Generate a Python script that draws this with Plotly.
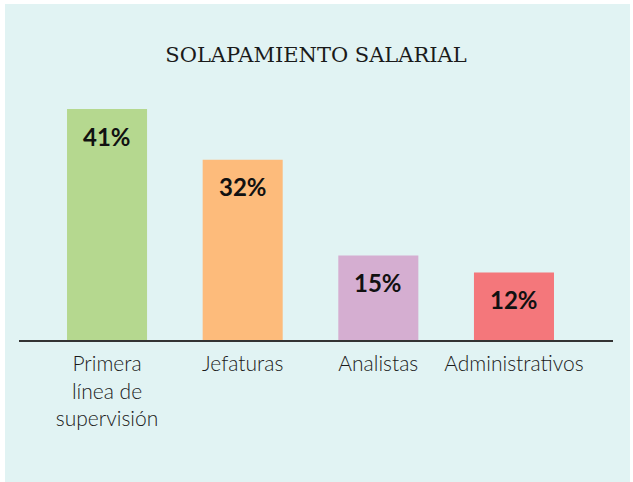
import plotly.graph_objects as go

categories = ["Primera<br>línea de<br>supervisión", "Jefaturas", "Analistas", "Administrativos"]
values = [41, 32, 15, 12]
labels = ["41%", "32%", "15%", "12%"]
colors = ["#b5d88f", "#fdbb7b", "#d5aed1", "#f4777b"]

W, H = 633, 482
ml, mr, mt, mb = 19, 20, 86, 142

fig = go.Figure()
fig.add_trace(go.Bar(
    x=list(range(len(categories))), y=values,
    marker=dict(color=colors, line=dict(width=0)),
    width=0.59, hoverinfo="skip",
))

for i, (v, t) in enumerate(zip(values, labels)):
    fig.add_annotation(x=i, y=v, text=t, showarrow=False, yanchor="middle",
                       yshift=-27, font=dict(family="Lato", size=24, color="#111111", weight="bold"))

pw = W - ml - mr
ph = H - mt - mb
def px_x(p):
    return (p - ml) / pw
def px_y(p):
    return (H - mb - p) / ph
fig.add_shape(type="rect", xref="paper", yref="paper", layer="below",
              x0=px_x(5), x1=px_x(630), y0=px_y(485), y1=px_y(4),
              fillcolor="#e1f3f3", line=dict(width=0))

fig.update_layout(
    width=W, height=H,
    margin=dict(l=ml, r=mr, t=mt, b=mb),
    paper_bgcolor="white", plot_bgcolor="rgba(0,0,0,0)",
    showlegend=False,
    title=dict(text="SOLAPAMIENTO SALARIAL", x=0.5, xref="paper", xanchor="center",
               y=1 - 55 / H, yanchor="middle",
               font=dict(family="DejaVu Serif", size=21, color="#1a1a1a")),
    xaxis=dict(
        tickmode="array", tickvals=list(range(len(categories))), ticktext=categories,
        range=[-0.649, 3.73], showgrid=False, zeroline=False,
        showline=True, linecolor="#333333", linewidth=2,
        ticks="outside", ticklen=4, tickcolor="rgba(0,0,0,0)",
        tickfont=dict(family="Lato", size=21, color="#1a1a1a", weight=300),
        tickangle=0,
    ),
    yaxis=dict(range=[0, 45.1], visible=False, showgrid=False, zeroline=False),
)

fig.write_html("out.html", config={"displayModeBar": False},
               post_script="document.body.style.margin='0';document.body.style.padding='0';")
